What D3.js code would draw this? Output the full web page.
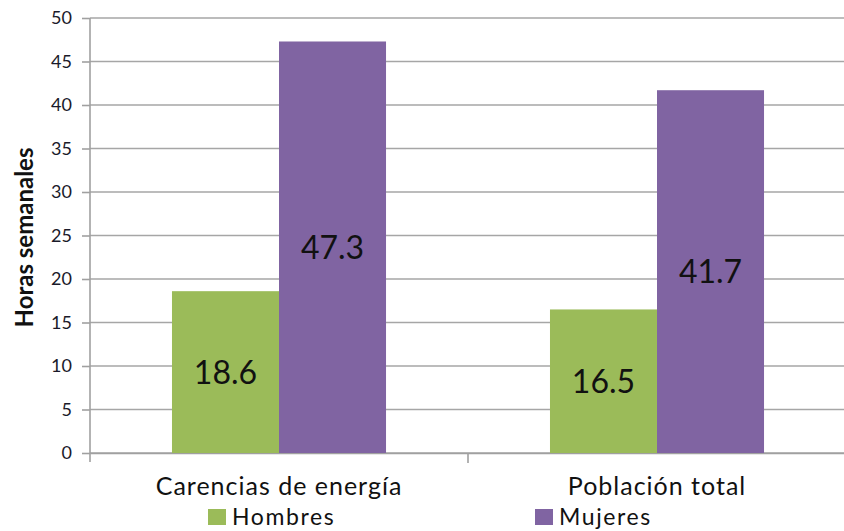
<!DOCTYPE html>
<html><head><meta charset="utf-8">
<script src="https://cdn.jsdelivr.net/npm/d3@7"></script>
<style>body{margin:0;background:#fff}svg{display:block}</style>
</head><body>
<svg id="c" width="844" height="531"></svg>
<script>
const categories = ["Carencias de energía", "Población total"];
const series = ["Hombres", "Mujeres"];
const hombres = [18.6, 16.5];
const mujeres = [47.3, 41.7];
const yTicks = [0,5,10,15,20,25,30,35,40,45,50];
const colors = ["#9BBB59", "#8064A2"];
const yTitle = "Horas semanales";

const svg = d3.select("#c");
const mLeft = 90, mRight = 846, mTop = 18, mBottom = 453;
const font = "Lato, 'Open Sans', sans-serif";
const x = d3.scaleBand().domain(categories).range([mLeft, mRight]).paddingInner(0).paddingOuter(0);
const x1 = d3.scaleBand().domain(series).range([0, x.bandwidth()]).paddingInner(0).paddingOuter(0.766);
const y = d3.scaleLinear().domain([0, 50]).range([mBottom, mTop]);

// gridlines
svg.append("g").selectAll("line").data(yTicks).join("line")
  .attr("x1", mLeft).attr("x2", mRight).attr("y1", d=>y(d)).attr("y2", d=>y(d))
  .attr("stroke", "#a6a6a6").attr("stroke-width", 1.6);

// y axis
const ya = svg.append("g").attr("transform", `translate(${mLeft},0)`)
  .call(d3.axisLeft(y).tickValues(yTicks).tickSize(8).tickPadding(10));
ya.select(".domain").attr("stroke", "#a0a0a0").attr("stroke-width", 1.6).attr("d", `M0,${y(0)+9}V${mTop}`);
ya.selectAll(".tick line").attr("stroke", "#a0a0a0").attr("stroke-width", 1.6);
ya.selectAll(".tick text").attr("font-family", font).attr("font-size", 18).attr("fill", "#1a1a2a");

// x axis
const xa = svg.append("g").attr("transform", `translate(0,${mBottom})`)
  .call(d3.axisBottom(x).tickSize(0).tickPadding(24));
xa.select(".domain").attr("stroke", "#a0a0a0").attr("stroke-width", 1.6);
xa.selectAll(".tick text").attr("font-family", font).attr("font-size", 25).attr("fill", "#111")
  .attr("letter-spacing", 1.0);
svg.append("g").selectAll("line").data([categories[1]]).join("line")
  .attr("x1", d=>x(d)).attr("x2", d=>x(d)).attr("y1", mBottom).attr("y2", mBottom+10)
  .attr("stroke", "#a0a0a0").attr("stroke-width", 1.6);

// bars
const data = categories.map((c,i)=>({c, vals:[hombres[i], mujeres[i]]}));
const g = svg.append("g").selectAll("g").data(data).join("g")
  .attr("transform", d=>`translate(${x(d.c)},0)`);
g.selectAll("rect").data(d=>d.vals.map((v,j)=>({s:series[j], v, j}))).join("rect")
  .attr("x", d=>x1(d.s)).attr("width", x1.bandwidth())
  .attr("y", d=>y(d.v)).attr("height", d=>y(0)-y(d.v))
  .attr("fill", d=>colors[d.j]);
g.selectAll("text").data(d=>d.vals.map((v,j)=>({s:series[j], v, j}))).join("text")
  .attr("x", d=>x1(d.s)+x1.bandwidth()/2).attr("y", d=>(y(d.v)+y(0))/2)
  .attr("dy", "0.36em").attr("text-anchor", "middle")
  .attr("font-family", font).attr("font-size", 32).attr("fill", "#111")
  .text(d=>d.v.toFixed(1));

// y title
svg.append("text").attr("transform", `translate(33,${(mTop+mBottom)/2+2}) rotate(-90)`)
  .attr("text-anchor", "middle").attr("font-family", font).attr("font-weight", "bold")
  .attr("font-size", 24).attr("fill", "#111").text(yTitle);

// legend
const legX = [208, 535];
const lg = svg.append("g").selectAll("g").data(series).join("g")
  .attr("transform", (d,i)=>`translate(${legX[i]},509)`);
lg.append("rect").attr("width", 18).attr("height", 16).attr("fill", (d,i)=>colors[i]);
lg.append("text").attr("x", 24).attr("y", 15.5).attr("font-family", font).attr("font-size", 23)
  .attr("fill", "#111").attr("letter-spacing", 1.6).text(d=>d);
</script>
</body></html>
